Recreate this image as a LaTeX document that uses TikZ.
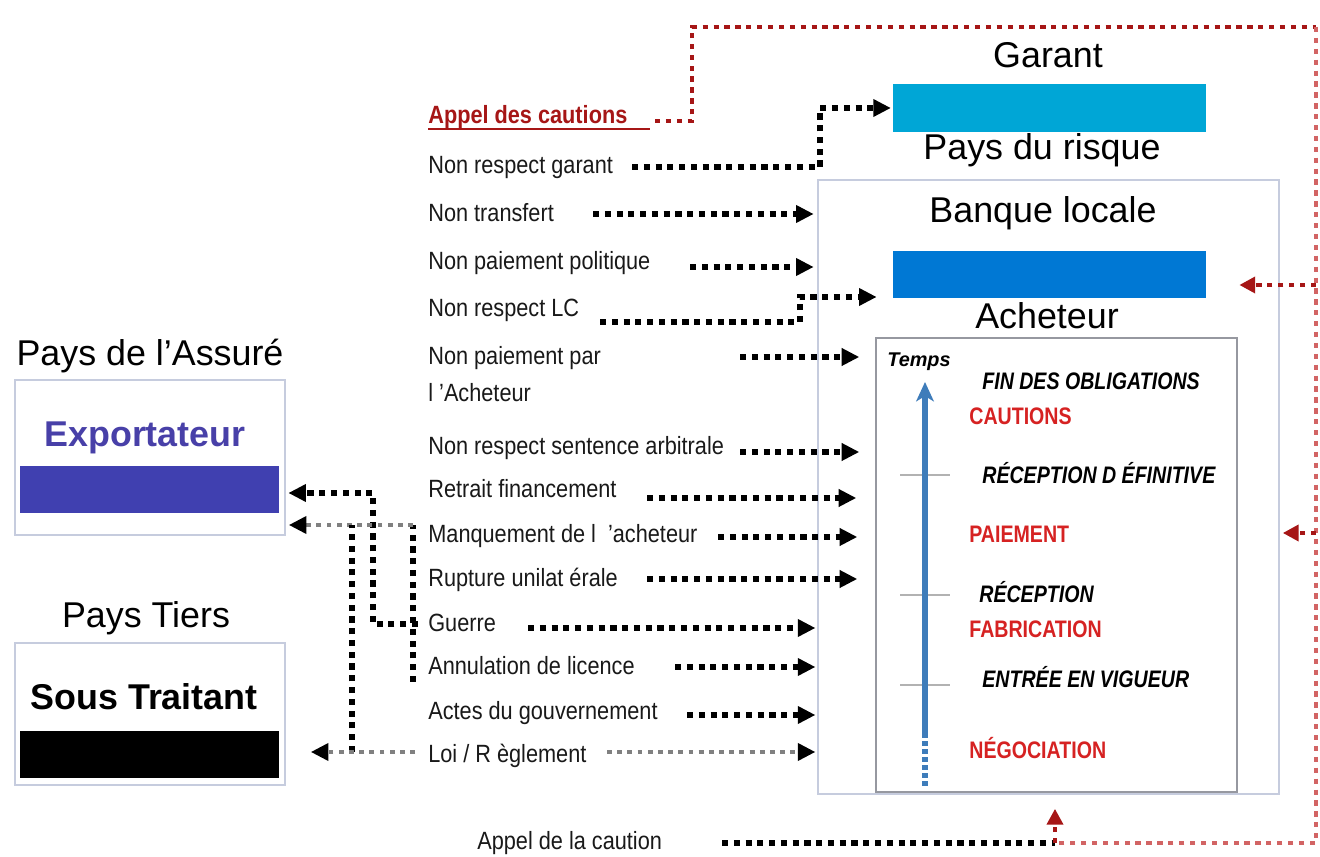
\documentclass[tikz,border=0pt]{standalone}
\usepackage{fontspec}
\setmainfont{Liberation Sans}
\newfontfamily\narrowfont[FakeStretch=0.87]{Liberation Sans}
\newfontfamily\condfont[FakeStretch=0.82]{Liberation Sans}
\usetikzlibrary{arrows.meta,calc,fit}

\definecolor{garcyan}{RGB}{0,166,214}
\definecolor{bankblue}{RGB}{0,120,212}
\definecolor{exppurple}{RGB}{64,64,176}
\definecolor{exptext}{RGB}{72,64,168}
\definecolor{darkred}{RGB}{166,22,22}
\definecolor{softred}{RGB}{210,100,100}
\definecolor{tlred}{RGB}{214,34,34}
\definecolor{timeblue}{RGB}{62,124,186}
\definecolor{framecol}{RGB}{198,204,222}
\definecolor{innerframe}{RGB}{150,152,160}
\definecolor{labgray}{RGB}{25,25,25}

\newcommand\labfont{\narrowfont\fontsize{14.2}{16}\selectfont}
\newcommand\titfont{\fontsize{20.4}{24}\selectfont}
\newcommand\bigbold{\bfseries\fontsize{20.4}{24}\selectfont}
\newcommand\tlkfont{\condfont\bfseries\itshape\fontsize{13.6}{16}\selectfont}
\newcommand\tlrfont{\condfont\bfseries\fontsize{13.6}{16}\selectfont}

\begin{document}
\begin{tikzpicture}[x=0.02cm,y=-0.02cm,
  lab/.style={font=\labfont, text=labgray, anchor=base west, inner sep=0pt},
  title/.style={font=\titfont, anchor=base, inner sep=0pt},
  tlk/.style={font=\tlkfont, anchor=base west, inner sep=0pt},
  tlr/.style={font=\tlrfont, text=tlred, anchor=base west, inner sep=0pt},
  bar/.style={inner sep=0pt, draw=none},
  frm/.style={inner sep=0pt, line width=0.9pt},
  blk/.style={line width=3.3pt, dash pattern=on 3.5pt off 3.2pt, black},
  lgt/.style={line width=2.6pt, dash pattern=on 2.8pt off 3pt, black!50},
  arr/.style={-{Triangle[length=10pt,width=9.5pt,color=black]}},
  reddots/.style={line width=2.6pt, dash pattern=on 3pt off 3.2pt, darkred},
  reddotslt/.style={line width=2.6pt, dash pattern=on 3pt off 3.2pt, softred},
  redarr/.style={-{Triangle[length=9pt,width=9pt,color=darkred]}},
  tick/.style={black!30, line width=0.7pt}]
\useasboundingbox (0,0) rectangle (1320,857);
\fill[white] (0,0) rectangle (1320,857);

% ---- country of the insured and third country
\node[title] (paysA) at (150,366) {Pays de l’Assuré};
\node[frm, draw=framecol, fit={(15,380) (285,535)}] (expbox) {};
\node[bar, fill=exppurple, fit={(20,466) (279,513)}] (expbar) {};
\node[font=\bigbold, text=exptext, anchor=base, inner sep=0pt] (exptxt) at (145,447) {Exportateur};
\node[title] (paysT) at (146,628) {Pays Tiers};
\node[frm, draw=framecol, fit={(15,643) (285,785)}] (stbox) {};
\node[bar, fill=black, fit={(20,731) (279,778)}] (stbar) {};
\node[font=\bigbold, anchor=base, inner sep=0pt] (sttxt) at (144,710) {Sous Traitant};

% ---- guarantor, country of risk, local bank, buyer
\node[title] (garant) at (1048,68) {Garant};
\node[bar, fill=garcyan, fit={(893,84) (1206,132)}] (garbar) {};
\node[title] (paysR) at (1042,160) {Pays du risque};
\node[frm, draw=framecol, fit={(818,180) (1279,794)}] (risque) {};
\node[title] (banque) at (1043,223) {Banque locale};
\node[bar, fill=bankblue, fit={(893,251) (1206,298)}] (bqbar) {};
\node[title] (acheteur) at (1047,329) {Acheteur};
\node[frm, draw=innerframe, line width=0.8pt, fit={(876,338) (1237,792)}] (achet) {};

% ---- time axis inside the buyer box
\draw[tick] (900,475) -- (950,475);
\draw[tick] (900,595) -- (950,595);
\draw[tick] (900,685) -- (950,685);
\coordinate (t0) at (925,734);
\coordinate (t1) at (925,382);
\coordinate (t2) at (925,786);
\draw[timeblue, line width=2.9pt, -{Stealth[length=11pt,width=10pt,inset=3pt]}] (t0) -- (t1);
\draw[timeblue, line width=2.9pt, dash pattern=on 2.6pt off 2pt] (t2) -- (t0);
\node[font=\bfseries\itshape\fontsize{11.3}{13}\selectfont, anchor=base west, inner sep=0pt] (temps) at (887,367) {Temps};
\node[tlk] (e1) at (982,390) {FIN DES OBLIGATIONS};
\node[tlr] (e2) at (969,425) {CAUTIONS};
\node[tlk] (e3) at (982,484) {RÉCEPTION D ÉFINITIVE};
\node[tlr] (e4) at (969,543) {PAIEMENT};
\node[tlk] (e5) at (979,603) {RÉCEPTION};
\node[tlr] (e6) at (969,638) {FABRICATION};
\node[tlk] (e7) at (982,688) {ENTRÉE EN VIGUEUR};
\node[tlr] (e8) at (969,759) {NÉGOCIATION};

% ---- list of risks
\node[lab, text=darkred, font=\labfont\bfseries] (lAppel) at (428,124) {Appel des cautions};
\draw[darkred, line width=1.1pt] ([yshift=-0.1cm]lAppel.base west) -- ++(222,0);
\node[lab] (lGarant) at (428,174) {Non respect garant};
\node[lab] (lTransfert) at (428,222) {Non transfert};
\node[lab] (lPolitique) at (428,270) {Non paiement politique};
\node[lab] (lLC) at (428,317) {Non respect LC};
\node[lab] (lPar) at (428,365) {Non paiement par};
\node[lab] (lPar2) at (428,402) {l ’Acheteur};
\node[lab] (lSentence) at (428,455) {Non respect sentence arbitrale};
\node[lab] (lRetrait) at (428,498) {Retrait financement};
\node[lab] (lManq) at (428,543) {Manquement de l~~’acheteur};
\node[lab] (lRupture) at (428,587) {Rupture unilat érale};
\node[lab] (lGuerre) at (428,632) {Guerre};
\node[lab] (lAnnul) at (428,675) {Annulation de licence};
\node[lab] (lActes) at (428,720) {Actes du gouvernement};
\node[lab] (lLoi) at (428,763) {Loi / R èglement};
\node[lab] (lAppel2) at (477,850) {Appel de la caution};

% ---- risk arrows towards the country of risk
\coordinate (s1) at (632,167);
\coordinate (k1) at (820,167);
\draw[blk, arr, shorten >=1pt] (s1) -- (k1) |- (garbar.west);
\coordinate (s2) at (593,214);
\draw[blk, arr, shorten >=2pt] (s2) -- (s2 -| risque.west);
\coordinate (s3) at (690,267);
\draw[blk, arr, shorten >=2pt] (s3) -- (s3 -| risque.west);
\coordinate (s4) at (600,322);
\coordinate (k4) at (800,297);
\draw[blk, arr] (s4) -| (k4) -- ($(k4 -| bqbar.west)+(-16,0)$);
\coordinate (s5) at (740,357);
\draw[blk, arr, shorten >=0.32cm] (s5) -- (s5 -| achet.west);
\coordinate (s6) at (740,452);
\draw[blk, arr, shorten >=0.32cm] (s6) -- (s6 -| achet.west);
\coordinate (s7) at (647,498);
\draw[blk, arr, shorten >=0.38cm] (s7) -- (s7 -| achet.west);
\coordinate (s8) at (718,537);
\draw[blk, arr, shorten >=0.36cm] (s8) -- (s8 -| achet.west);
\coordinate (s9) at (647,579);
\draw[blk, arr, shorten >=0.36cm] (s9) -- (s9 -| achet.west);
\coordinate (s10) at (528,628);
\draw[blk, arr, shorten >=1pt] (s10) -- (s10 -| risque.west);
\coordinate (s11) at (675,667);
\draw[blk, arr, shorten >=1pt] (s11) -- (s11 -| risque.west);
\coordinate (s12) at (687,715);
\draw[blk, arr, shorten >=1pt] (s12) -- (s12 -| risque.west);
\coordinate (s13) at (607,752);
\draw[lgt, arr, shorten >=1pt] (s13) -- (s13 -| risque.west);

% ---- arrows back towards exporter and subcontractor
\coordinate (g0) at (418,624);
\coordinate (kA) at (373,493);
\draw[blk, arr, shorten >=0.18cm] (g0) -| (kA) -- (kA -| expbar.east);
\coordinate (m0) at (413,682);
\coordinate (kB) at (413,525);
\draw[blk] (m0) -- (kB);
\draw[lgt, arr, shorten >=0.06cm] (kB) -- (kB -| expbox.east);
\coordinate (kD) at (352,752);
\coordinate (kE) at (352,525);
\draw[blk] (kD) -- (kE);
\coordinate (kC) at (415,752);
\draw[lgt, arr, shorten >=0.5cm] (kC) -- (kC -| stbox.east);

% ---- call of guarantees (red loop)
\coordinate (r0) at (655,121);
\coordinate (kT) at (692,27);
\coordinate (kTR) at (1316,27);
\coordinate (kBR) at (1316,843);
\coordinate (kBot) at (1055,843);
\coordinate (c0) at (722,843);
\draw[reddots] (r0) -| (kT) -- (kTR);
\draw[reddotslt] (kTR) -- (kBR) -- (kBot);
\draw[blk] (c0) -- (kBot);
\draw[reddots, redarr, shorten >=0.28cm] (kBot) -- (kBot |- risque.south);
\coordinate (kR1) at (1316,285);
\draw[reddots, redarr, shorten >=0.66cm] (kR1) -- (kR1 -| bqbar.east);
\coordinate (kR2) at (1316,533);
\draw[reddots, redarr, shorten >=0.06cm] (kR2) -- (kR2 -| risque.east);
\end{tikzpicture}
\end{document}
